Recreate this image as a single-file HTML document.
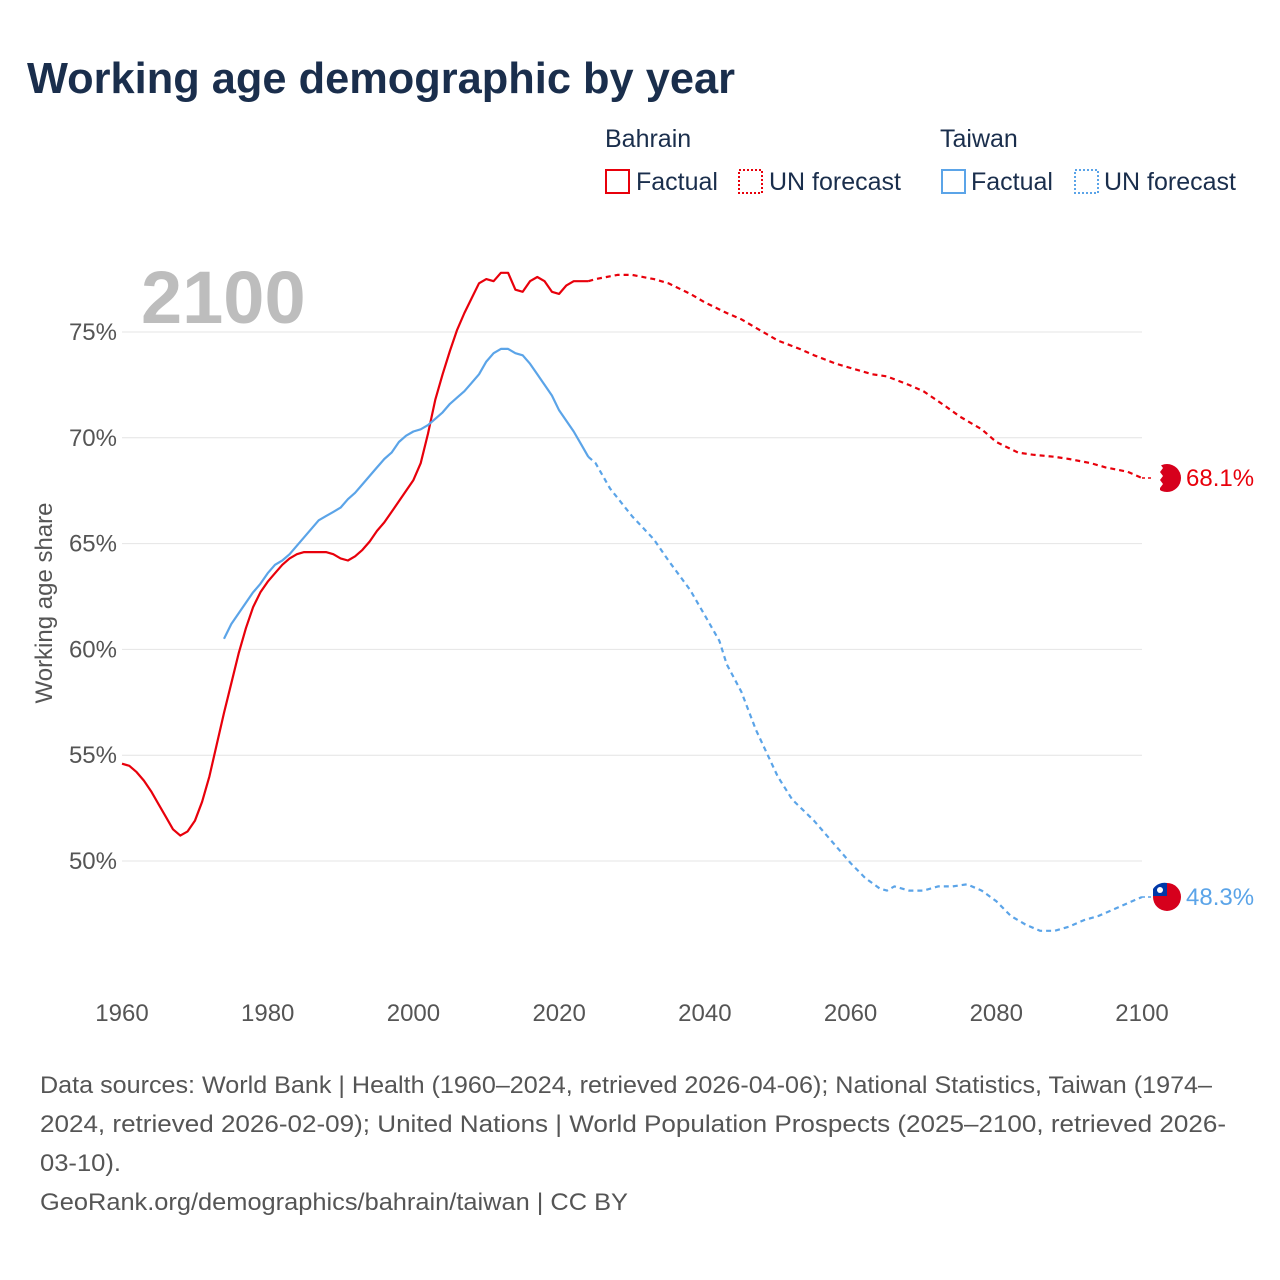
<!DOCTYPE html>
<html><head><meta charset="utf-8">
<style>
body{margin:0;background:#fff;font-family:"Liberation Sans",sans-serif;}
#wrap{position:relative;width:1280px;height:1280px;overflow:hidden;}
</style></head>
<body><div id="wrap">
<svg id="chart" width="1280" height="1280" xmlns="http://www.w3.org/2000/svg">
<text x="27" y="93" font-size="44" font-weight="bold" fill="#1a2e4c" textLength="708" lengthAdjust="spacingAndGlyphs">Working age demographic by year</text>
<g font-size="25" fill="#1a2e4c">
<text x="605" y="147">Bahrain</text>
<rect x="606" y="170" width="23" height="23" fill="none" stroke="#e8000b" stroke-width="2"/>
<text x="636" y="190">Factual</text>
<rect x="739" y="170" width="23" height="23" fill="none" stroke="#e8000b" stroke-width="2" stroke-dasharray="2,2"/>
<text x="769" y="190">UN forecast</text>
<text x="940" y="147">Taiwan</text>
<rect x="942" y="170" width="23" height="23" fill="none" stroke="#5ba4e8" stroke-width="2"/>
<text x="971" y="190">Factual</text>
<rect x="1075" y="170" width="23" height="23" fill="none" stroke="#5ba4e8" stroke-width="2" stroke-dasharray="2,2"/>
<text x="1104" y="190">UN forecast</text>
</g>
<text x="141" y="323" font-size="74" font-weight="bold" fill="#bdbdbd">2100</text>
<text transform="translate(52,603) rotate(-90)" text-anchor="middle" font-size="24" fill="#555">Working age share</text>
<g id="grid"></g><g id="yt"></g><g id="xt"></g><g id="lines"></g>
<g font-size="24" fill="#555">
<text x="40" y="1093" textLength="1172" lengthAdjust="spacingAndGlyphs">Data sources: World Bank | Health (1960–2024, retrieved 2026-04-06); National Statistics, Taiwan (1974–</text>
<text x="40" y="1132" textLength="1186" lengthAdjust="spacingAndGlyphs">2024, retrieved 2026-02-09); United Nations | World Population Prospects (2025–2100, retrieved 2026-</text>
<text x="40" y="1171" textLength="81" lengthAdjust="spacingAndGlyphs">03-10).</text>
<text x="40" y="1210" textLength="588" lengthAdjust="spacingAndGlyphs">GeoRank.org/demographics/bahrain/taiwan | CC BY</text>
</g>
</svg></div>
<script>
const yTicks=[50,55,60,65,70,75];
const xTicks=[1960,1980,2000,2020,2040,2060,2080,2100];
const bhFactYears=[1960,1961,1962,1963,1964,1965,1966,1967,1968,1969,1970,1971,1972,1973,1974,1975,1976,1977,1978,1979,1980,1981,1982,1983,1984,1985,1986,1987,1988,1989,1990,1991,1992,1993,1994,1995,1996,1997,1998,1999,2000,2001,2002,2003,2004,2005,2006,2007,2008,2009,2010,2011,2012,2013,2014,2015,2016,2017,2018,2019,2020,2021,2022,2023,2024];
const bhFact=[54.6,54.5,54.2,53.8,53.3,52.7,52.1,51.5,51.2,51.4,51.9,52.8,54.0,55.5,57.0,58.4,59.8,61.0,62.0,62.7,63.2,63.6,64.0,64.3,64.5,64.6,64.6,64.6,64.6,64.5,64.3,64.2,64.4,64.7,65.1,65.6,66.0,66.5,67.0,67.5,68.0,68.8,70.2,71.8,73.0,74.1,75.1,75.9,76.6,77.3,77.5,77.4,77.8,77.8,77.0,76.9,77.4,77.6,77.4,76.9,76.8,77.2,77.4,77.4,77.4];
const bhFcYears=[2024,2025,2028,2030,2033,2035,2038,2040,2043,2045,2048,2050,2053,2055,2058,2060,2063,2065,2068,2070,2073,2075,2078,2080,2083,2085,2088,2090,2093,2095,2098,2100];
const bhFc=[77.4,77.5,77.7,77.7,77.5,77.3,76.8,76.4,75.9,75.6,75.0,74.6,74.2,73.9,73.5,73.3,73.0,72.9,72.5,72.2,71.5,71.0,70.4,69.8,69.3,69.2,69.1,69.0,68.8,68.6,68.4,68.1];
const twFactYears=[1974,1975,1976,1977,1978,1979,1980,1981,1982,1983,1984,1985,1986,1987,1988,1989,1990,1991,1992,1993,1994,1995,1996,1997,1998,1999,2000,2001,2002,2003,2004,2005,2006,2007,2008,2009,2010,2011,2012,2013,2014,2015,2016,2017,2018,2019,2020,2021,2022,2023,2024];
const twFact=[60.5,61.2,61.7,62.2,62.7,63.1,63.6,64.0,64.2,64.5,64.9,65.3,65.7,66.1,66.3,66.5,66.7,67.1,67.4,67.8,68.2,68.6,69.0,69.3,69.8,70.1,70.3,70.4,70.6,70.9,71.2,71.6,71.9,72.2,72.6,73.0,73.6,74.0,74.2,74.2,74.0,73.9,73.5,73.0,72.5,72.0,71.3,70.8,70.3,69.7,69.1];
const twFcYears=[2024,2025,2027,2030,2033,2035,2038,2040,2042,2043,2045,2047,2050,2052,2055,2058,2060,2062,2064,2065,2066,2068,2070,2072,2074,2076,2078,2080,2082,2084,2086,2088,2090,2092,2094,2096,2098,2100];
const twFc=[69.1,68.8,67.6,66.3,65.2,64.2,62.8,61.6,60.4,59.3,58.0,56.2,54.0,52.9,51.9,50.7,49.9,49.2,48.7,48.6,48.8,48.6,48.6,48.8,48.8,48.9,48.6,48.1,47.4,47.0,46.7,46.7,46.9,47.2,47.4,47.7,48.0,48.3];
const endLabels=['68.1%','48.3%'];
const NS='http://www.w3.org/2000/svg';
const X=y=>122+(y-1960)*(1020/140);
const Y=v=>861-(v-50)*21.16;
function mk(t,a,p){const e=document.createElementNS(NS,t);for(const k in a)e.setAttribute(k,a[k]);document.getElementById(p).appendChild(e);return e;}
yTicks.forEach(v=>{
 const l=mk('line',{x1:122,x2:1142,y1:Y(v),y2:Y(v),stroke:'#e4e4e4','stroke-width':1},'grid');
 
 
 const t=mk('text',{x:117,y:Y(v)+8,'text-anchor':'end','font-size':24,fill:'#555'},'yt');
 t.textContent=v+'%';
 
 
});
xTicks.forEach(v=>{
 const t=mk('text',{x:X(v),y:1021,'text-anchor':'middle','font-size':24,fill:'#555'},'xt');
 t.textContent=v;
 
 
});
function line(ys,vs,col,dash,name){
 const d=ys.map((y,i)=>(i?'L':'M')+X(y).toFixed(1)+','+Y(vs[i]).toFixed(1)).join('');
 const a={d:d,fill:'none',stroke:col,'stroke-width':2.2,'stroke-linejoin':'round'};
 if(dash)a['stroke-dasharray']='5,4';
 const p=mk('path',a,'lines');
 
 
}
line(bhFactYears,bhFact,'#e8000b',false,'bahrain-factual-line');
line(bhFcYears,bhFc,'#e8000b',true,'bahrain-forecast-line');
line(twFactYears,twFact,'#5ba4e8',false,'taiwan-factual-line');
line(twFcYears,twFc,'#5ba4e8',true,'taiwan-forecast-line');
const bv=bhFc[bhFc.length-1], tv=twFc[twFc.length-1];
[[bv,'#e8000b','bahrain',endLabels[0]],[tv,'#5ba4e8','taiwan',endLabels[1]]].forEach(([v,c,n,lab])=>{
 const y=Y(v);
 const l=mk('line',{x1:X(2100),x2:1155,y1:y,y2:y,stroke:c,'stroke-width':1.5,'stroke-dasharray':'3,3'},'lines');
 
 
 const ci=mk('circle',{cx:1167,cy:y,r:14,fill:'#d6001c'},'lines');
 
 
 if(n==='bahrain'){
  const s=mk('path',{d:`M1153,${y-14}L1160,${y-14}L1163,${y-10}L1160,${y-6}L1163,${y-2}L1160,${y+2}L1163,${y+6}L1160,${y+10}L1160,${y+14}L1153,${y+14}Z`,fill:'#fff'},'lines');
  
  
 }else{
  const s=mk('path',{d:`M1153,${y-1}L1153,${y-8}A14,14 0 0 1 1167,${y-14}L1167,${y-1}Z`,fill:'#0038a8'},'lines');
  
  
  const sun=mk('circle',{cx:1160,cy:y-7,r:3,fill:'#fff'},'lines');
  
  
 }
 const t=mk('text',{x:1186,y:y+8,'font-size':24,fill:c},'lines');
 t.textContent=lab;
 
 
});
</script>
</body></html>
